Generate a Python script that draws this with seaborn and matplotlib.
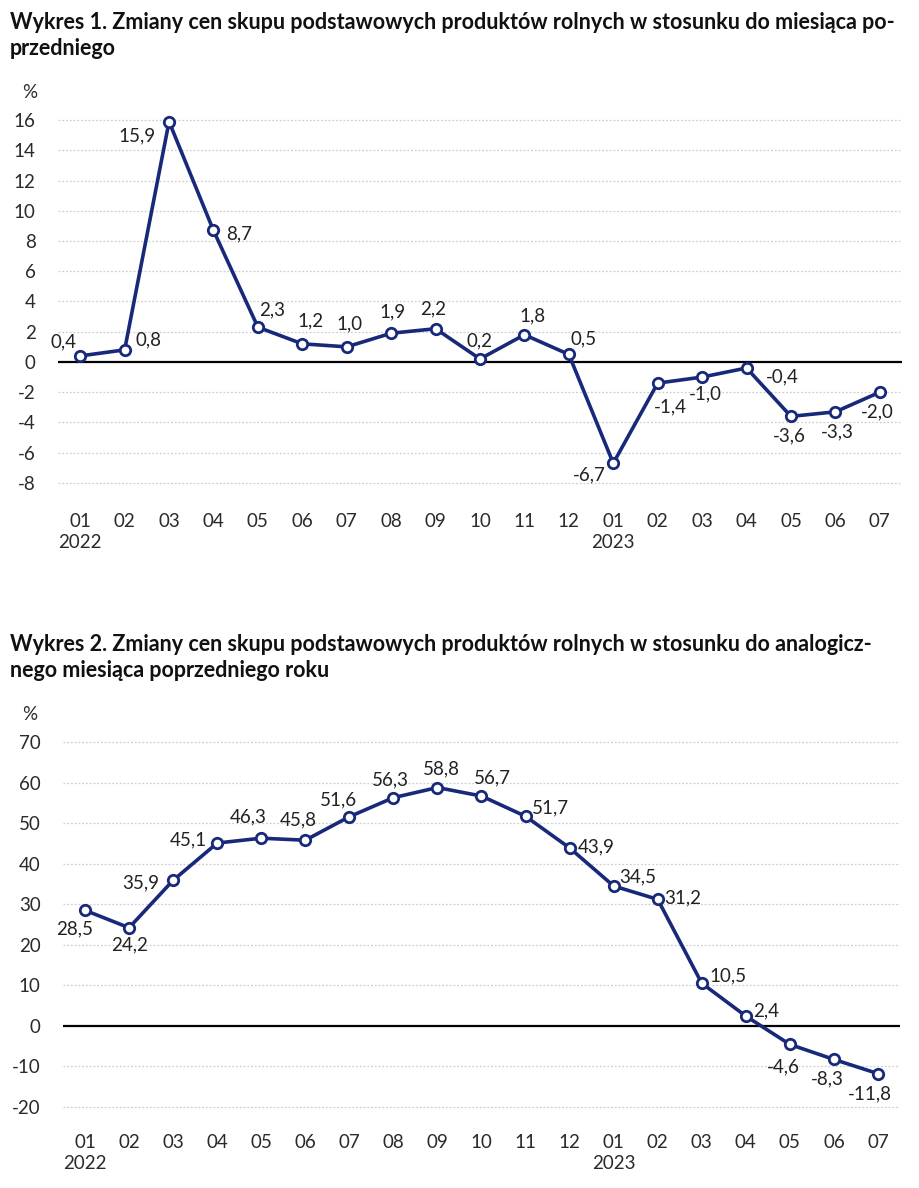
import numpy as np
import pandas as pd
import seaborn as sns
import matplotlib.pyplot as plt

sns.set_theme(style="white")
plt.rcParams["font.family"] = ["Lato", "DejaVu Sans"]

months = ["01", "02", "03", "04", "05", "06", "07", "08", "09", "10", "11", "12",
          "01", "02", "03", "04", "05", "06", "07"]
years = {0: "2022", 12: "2023"}

mom = [0.4, 0.8, 15.9, 8.7, 2.3, 1.2, 1.0, 1.9, 2.2, 0.2, 1.8, 0.5,
       -6.7, -1.4, -1.0, -0.4, -3.6, -3.3, -2.0]
yoy = [28.5, 24.2, 35.9, 45.1, 46.3, 45.8, 51.6, 56.3, 58.8, 56.7, 51.7, 43.9,
       34.5, 31.2, 10.5, 2.4, -4.6, -8.3, -11.8]

title1 = ("Wykres 1. Zmiany cen skupu podstawowych produktów rolnych w stosunku do miesiąca po-\n"
          "przedniego")
title2 = ("Wykres 2. Zmiany cen skupu podstawowych produktów rolnych w stosunku do analogicz-\n"
          "nego miesiąca poprzedniego roku")

# label offsets in pixels (dx, dy), dy positive = up
off1 = [(-17, 14), (24, 10), (-32, -14), (26, -3), (14, 17), (8, 23), (3, 23), (1, 21),
        (-2, 20), (0, 18), (8, 19), (15, 16), (-24, -12), (13, -24), (3, -17),
        (36, -9), (-2, -19), (2, -20), (-2, -20)]
off2 = [(-10, -19), (0, -17), (-32, -3), (-29, 3), (-13, 21), (-7, 20), (-11, 17),
        (-3, 18), (4, 19), (11, 18), (25, 8), (27, 1), (24, 9), (25, 2), (26, 7),
        (20, 5), (-7, -22), (-7, -19), (-8, -20)]

navy = "#18297a"
W, H = 920, 1188
fig = plt.figure(figsize=(W / 100, H / 100), dpi=100)
fig.patch.set_facecolor("white")


def draw(box, vals, offs, ylim, yticks, title, title_y, pct_y):
    l, t, r, b = box
    ax = fig.add_axes([l / W, 1 - b / H, (r - l) / W, (b - t) / H])
    df = pd.DataFrame({"x": np.arange(len(vals)), "v": vals})
    ax.axhline(0, color="black", lw=1.6, zorder=2)
    for y in yticks:
        if y != 0:
            ax.axhline(y, color="#cfcfcf", lw=0.9, ls=(0, (1.5, 1.5)), zorder=1)
    sns.lineplot(data=df, x="x", y="v", ax=ax, color=navy, lw=2.6, marker="o",
                 markersize=7.5, markerfacecolor="white", markeredgecolor=navy,
                 markeredgewidth=2, zorder=3)
    for x, v, (dx, dy) in zip(df["x"], df["v"], offs):
        ax.annotate(f"{v:.1f}".replace(".", ","), (x, v), xytext=(dx, dy),
                    textcoords="offset pixels", ha="center", va="center",
                    fontsize=13.5, color="#222222")
    ax.set_xlim(-0.5, len(vals) - 0.5)
    ax.set_ylim(*ylim)
    ax.set_yticks(yticks)
    ax.set_yticklabels([str(y) for y in yticks])
    ax.set_xticks(df["x"])
    ax.set_xticklabels([m + ("\n" + years[i] if i in years else "")
                        for i, m in enumerate(months)])
    for lab in ax.get_xticklabels():
        lab.set_linespacing(1.3)
        lab.set_verticalalignment("top")
    ax.tick_params(axis="y", length=0, pad=16, labelsize=13.5, labelcolor="#2a2a2a")
    ax.tick_params(axis="x", length=0, pad=11, labelsize=13.5, labelcolor="#2a2a2a")
    ax.set_xlabel("")
    ax.set_ylabel("")
    sns.despine(ax=ax, left=True, bottom=True)
    fig.text(10 / W, 1 - title_y / H, title, fontsize=15.5, fontweight="bold",
             va="top", ha="left", color="#111111", linespacing=1.3)
    fig.text(30 / W, 1 - pct_y / H, "%", fontsize=13.5, va="center", ha="center",
             color="#2a2a2a")


draw((58, 105, 902, 498), mom, off1, (-9, 17), list(range(-8, 17, 2)),
     title1, 12, 92)
draw((63, 730, 900, 1119), yoy, off2, (-23, 73), list(range(-20, 71, 10)),
     title2, 634, 715)

fig.savefig("out.png", dpi=100, facecolor="white")
